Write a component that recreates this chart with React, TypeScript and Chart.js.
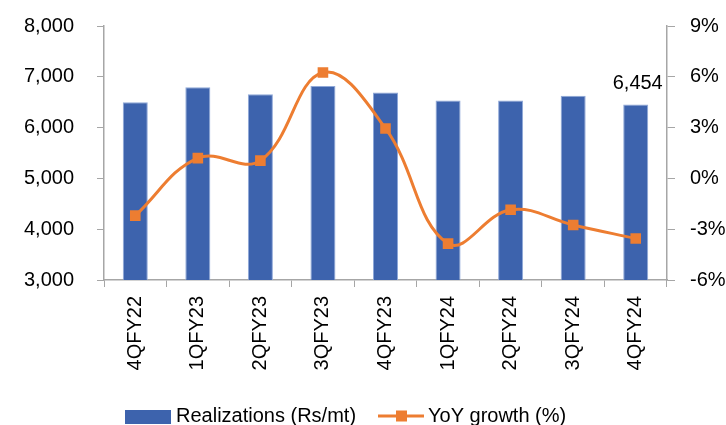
import React, { useEffect, useRef } from "react";
import { Chart, registerables } from "chart.js";

Chart.register(...registerables);

const categories = ["4QFY22", "1QFY23", "2QFY23", "3QFY23", "4QFY23", "1QFY24", "2QFY24", "3QFY24", "4QFY24"];
const realizations = [6500, 6795, 6655, 6820, 6690, 6535, 6535, 6625, 6454];
const yoyGrowth = [-2.2, 1.2, 1.05, 6.25, 2.95, -3.85, -1.85, -2.75, -3.55];
const leftTicks = [3000, 4000, 5000, 6000, 7000, 8000];
const rightTicks = [-6, -3, 0, 3, 6, 9];
const barLabel = "Realizations (Rs/mt)";
const lineLabel = "YoY growth (%)";
const lastLabel = "6,454";

const FONT = "'Liberation Sans', Arial, sans-serif";
const BLUE = "#3D63AD";
const ORANGE = "#ED7D31";
const AXIS = "#A6A6A6";

export default function App() {
  const ref = useRef<HTMLCanvasElement | null>(null);
  useEffect(() => {
    if (!ref.current) return;
    const labelPlugin = {
      id: "customDraw",
      afterDraw(chart: any) {
        const ctx = chart.ctx;
        ctx.save();
        const meta = chart.getDatasetMeta(0);
        const last = meta.data[meta.data.length - 1];
        ctx.font = `20px ${FONT}`;
        ctx.fillStyle = "#000";
        ctx.textAlign = "center";
        ctx.textBaseline = "alphabetic";
        ctx.fillText(lastLabel, last.x + 2, last.y - 16);
        ctx.fillStyle = BLUE;
        ctx.fillRect(125, 410, 46, 14);
        ctx.textAlign = "left";
        ctx.fillStyle = "#000";
        ctx.fillText(barLabel, 176, 422);
        ctx.strokeStyle = ORANGE;
        ctx.lineWidth = 3;
        ctx.beginPath();
        ctx.moveTo(378, 416);
        ctx.lineTo(424, 416);
        ctx.stroke();
        ctx.fillStyle = ORANGE;
        ctx.fillRect(396, 410.5, 11, 11);
        ctx.fillStyle = "#000";
        ctx.fillText(lineLabel, 428, 422);
        ctx.restore();
      },
    };
    const chart = new Chart(ref.current, {
      type: "bar",
      data: {
        labels: categories,
        datasets: [
          {
            type: "bar",
            label: barLabel,
            data: realizations,
            backgroundColor: BLUE,
            borderColor: "#8FA8D8",
            borderWidth: 1,
            barPercentage: 0.4,
            categoryPercentage: 1,
            yAxisID: "y",
            order: 2,
          },
          {
            type: "line",
            label: lineLabel,
            data: yoyGrowth,
            borderColor: ORANGE,
            backgroundColor: ORANGE,
            borderWidth: 3,
            tension: 0.4,
            pointStyle: "rect",
            pointRadius: 7.5,
            pointBorderWidth: 0,
            yAxisID: "y1",
            order: 1,
          } as any,
        ],
      },
      options: {
        animation: false,
        responsive: false,
        maintainAspectRatio: false,
        layout: { padding: { top: 26, left: 0, right: 0, bottom: 0 } },
        plugins: { legend: { display: false }, tooltip: { enabled: false } },
        scales: {
          x: {
            offset: true,
            grid: { display: true, drawOnChartArea: false, drawTicks: true, tickLength: 7, color: AXIS, offset: true },
            border: { display: true, color: AXIS, width: 1.5 },
            ticks: { color: "#000", font: { family: FONT, size: 20 }, minRotation: 90, maxRotation: 90, padding: 9 },
            afterFit(scale: any) { scale.height = 145; scale.paddingLeft = 0; scale.paddingRight = 0; },
          },
          y: {
            position: "left",
            min: 3000,
            max: 8000,
            afterBuildTicks(scale: any) { scale.ticks = leftTicks.map((v) => ({ value: v })); },
            grid: { display: true, drawOnChartArea: false, drawTicks: true, tickLength: 7, color: AXIS },
            border: { display: true, color: AXIS, width: 1.5 },
            ticks: {
              color: "#000",
              font: { family: FONT, size: 20 },
              padding: 23,
              callback: (v: any) => Number(v).toLocaleString("en-US"),
            },
            afterFit(scale: any) { scale.width = 104; scale.paddingTop = 0; scale.paddingBottom = 0; },
          },
          y1: {
            position: "right",
            min: -6,
            max: 9,
            afterBuildTicks(scale: any) { scale.ticks = rightTicks.map((v) => ({ value: v })); },
            grid: { display: true, drawOnChartArea: false, drawTicks: true, tickLength: 8, color: AXIS },
            border: { display: true, color: AXIS, width: 1.5 },
            ticks: {
              color: "#000",
              font: { family: FONT, size: 20 },
              padding: 15,
              callback: (v: any) => `${v}%`,
            },
            afterFit(scale: any) { scale.width = 59; scale.paddingTop = 0; scale.paddingBottom = 0; },
          },
        },
      },
      plugins: [labelPlugin],
    });
    return () => chart.destroy();
  }, []);
  return (
    <div style={{ position: "fixed", left: 0, top: 0, width: 726, height: 425, background: "#fff" }}>
      <canvas ref={ref} width={726} height={425} style={{ display: "block" }} />
    </div>
  );
}
